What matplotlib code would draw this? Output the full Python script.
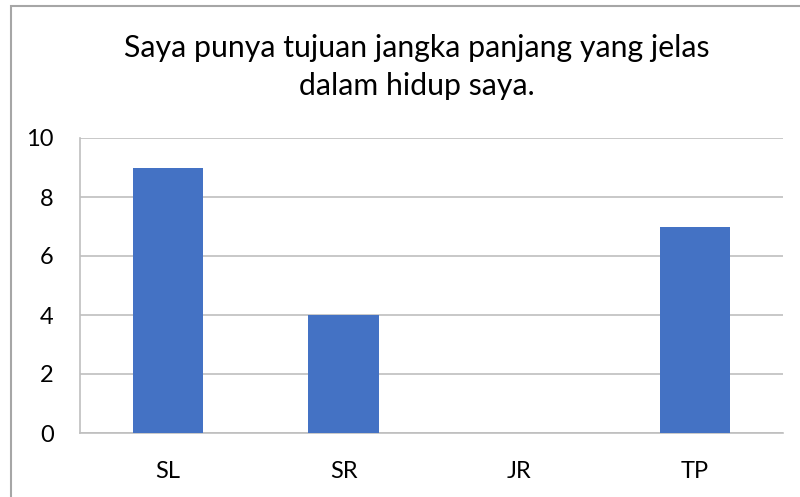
import matplotlib
matplotlib.use("Agg")
import matplotlib.pyplot as plt
from matplotlib.patches import Rectangle

categories = ["SL", "SR", "JR", "TP"]
values = [9, 4, 0, 7]
yticks = [0, 2, 4, 6, 8, 10]
title = "Saya punya tujuan jangka panjang yang jelas\ndalam hidup saya."

plt.rcParams['font.family'] = ['Lato', 'DejaVu Sans']

fig = plt.figure(figsize=(8, 4.97), dpi=100)
fig.patches.append(Rectangle((11/800, -0.1), 1.2, (497-5.5)/497 + 0.1, transform=fig.transFigure,
                             fill=False, edgecolor='#a6a6a6', linewidth=1.5))
ax = fig.add_axes([80/800, (497-433)/497, (783-80)/800, (433-138)/497])
x = list(range(len(categories)))
ax.bar(x, values, width=0.4, color='#4472c4', zorder=3)
ax.set_xlim(-0.5, len(categories) - 0.5)
ax.set_ylim(0, 10)
ax.set_yticks(yticks)
ax.set_yticklabels([str(t) for t in yticks], fontsize=17)
ax.set_xticks(x)
ax.set_xticklabels(categories, fontsize=17)
ax.tick_params(length=0)
ax.tick_params(axis='x', pad=20)
ax.tick_params(axis='y', pad=19)
ax.grid(axis='y', color='#bfbfbf', linewidth=1.2, zorder=0)
for s in ['top', 'right']:
    ax.spines[s].set_visible(False)
for s in ['left', 'bottom']:
    ax.spines[s].set_color('#bfbfbf')
    ax.spines[s].set_linewidth(1.2)
fig.text(417/800, 1 - 67/497, title, ha='center', va='center', fontsize=21.8, linespacing=1.45)
fig.savefig("out.png", dpi=100)
